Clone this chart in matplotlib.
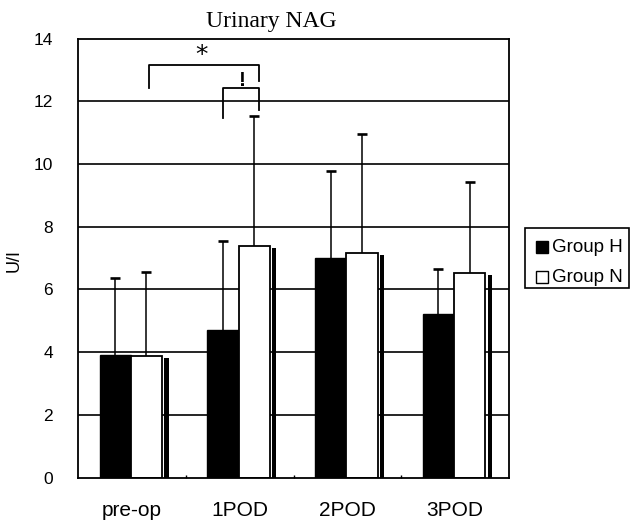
import matplotlib
matplotlib.use("Agg")
import matplotlib.pyplot as plt
from matplotlib.patches import Rectangle
import numpy as np

categories = ["pre-op", "1POD", "2POD", "3POD"]
group_h = [3.91, 4.70, 6.99, 5.20]
group_h_sd = [2.45, 2.85, 2.79, 1.45]
group_n = [3.87, 7.39, 7.15, 6.53]
group_n_sd = [2.69, 4.15, 3.80, 2.90]
yticks = [0, 2, 4, 6, 8, 10, 12, 14]
series_labels = ["Group H", "Group N"]

plt.rcParams['font.family'] = ['Liberation Sans', 'DejaVu Sans']

W, H = 630, 527
fig = plt.figure(figsize=(W / 100, H / 100), dpi=100)
ax = fig.add_axes([78 / W, 1 - 477.5 / H, 431 / W, 439 / H])

x = np.arange(len(categories))
bw = 0.29

# grid lines
for yv in yticks[1:-1]:
    ax.axhline(yv, color='black', lw=1.2, zorder=0)

# shadows for white bars
ax.bar(x + bw + 0.012, np.array(group_n) - 0.07, width=0.04, align='edge',
       color='black', edgecolor='none', zorder=1)

ax.bar(x - bw - 0.01, group_h, width=bw, align='edge', color='black',
       edgecolor='black', lw=1.0, zorder=2, label=series_labels[0])
ax.bar(x - 0.01, group_n, width=bw, align='edge', color='white',
       edgecolor='black', lw=1.3, zorder=2, label=series_labels[1])

hc = x - bw / 2 - 0.01
nc = x + bw / 2 - 0.01
h_top = np.array(group_h) + np.array(group_h_sd)
n_top = np.array(group_n) + np.array(group_n_sd)
for cx, base, top in [(hc, group_h, h_top), (nc, group_n, n_top)]:
    ax.vlines(cx, base, top, color='black', lw=1.1, zorder=1.5)
    ax.plot(cx, top, linestyle='none', marker='_', markersize=7.5,
            markeredgewidth=1.9, color='black', zorder=1.5)

ax.set_xlim(-0.5, 3.5)
ax.set_ylim(0, 14)
ax.set_yticks(yticks)
ax.set_yticklabels([str(v) for v in yticks], fontsize=12.5)
ax.tick_params(axis='y', length=0, pad=18)
ax.set_xticks(x)
ax.set_xticklabels(categories, fontsize=15)
ax.tick_params(axis='x', which='major', length=0, pad=17)
ax.set_xticks(x[:-1] + 0.5, minor=True)
ax.tick_params(axis='x', which='minor', direction='in', length=2.5, width=1.0)
for s in ax.spines.values():
    s.set_linewidth(1.3)

# significance brackets
lk = dict(color='black', lw=1.3, clip_on=False, zorder=3)
ax.plot([0.162, 0.162, 1.182, 1.182], [12.43, 13.15, 13.15, 12.64], **lk)
ax.plot([0.843, 0.843, 1.182, 1.182], [11.47, 12.43, 12.43, 11.72], **lk)
ax.text(0.648, 13.08, "*", fontsize=18, ha='center', va='bottom',
        family='DejaVu Sans')
ax.text(1.028, 12.36, "!", fontsize=15, ha='center', va='bottom',
        fontweight='bold')

# title and axis label
fig.text(271 / W, 1 - 27 / H, "Urinary NAG", fontsize=17, ha='center',
         va='baseline', family='Liberation Serif')
fig.text(14 / W, 1 - 260 / H, "U/I", fontsize=13, rotation=90,
         ha='center', va='center')

# legend box
fig.patches.append(Rectangle((525 / W, 1 - 288 / H), 104 / W, 60 / H,
                             transform=fig.transFigure, facecolor='white',
                             edgecolor='black', lw=1.2))
for i, (lab, fc) in enumerate(zip(series_labels, ['black', 'white'])):
    yc = 247 + 30 * i
    fig.patches.append(Rectangle((536 / W, 1 - (yc + 6) / H), 12 / W, 12 / H,
                                 transform=fig.transFigure, facecolor=fc,
                                 edgecolor='black', lw=1.0))
    fig.text(552 / W, 1 - yc / H, lab, fontsize=13.5, ha='left', va='center')

fig.savefig("out.png", dpi=100)
